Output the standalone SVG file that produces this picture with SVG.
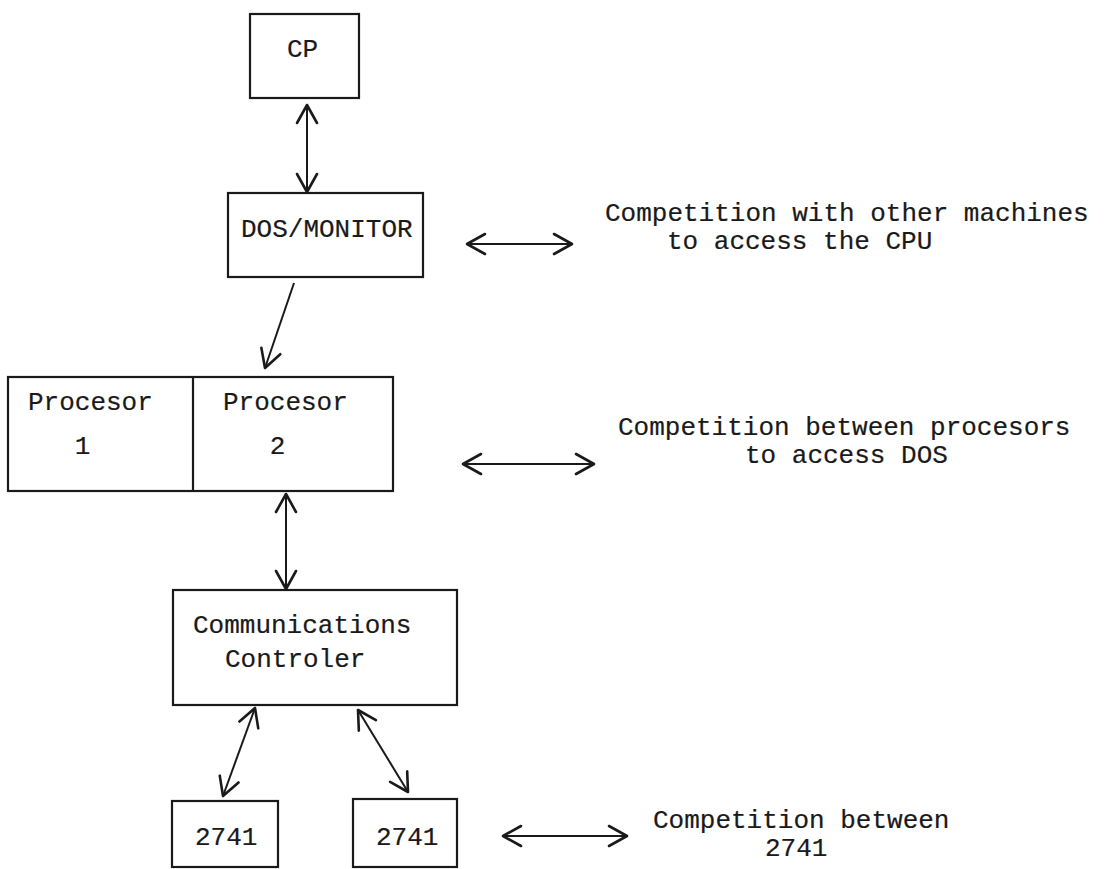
<svg xmlns="http://www.w3.org/2000/svg" width="1110" height="869" viewBox="0 0 1110 869">
<style>
.box{fill:none;stroke:#1a1a1a;stroke-width:2.2}
.t{font-family:"Liberation Mono","DejaVu Sans Mono",monospace;font-size:26px;fill:#1a1a1a;stroke:#1a1a1a;stroke-width:0.2}
.c{fill:none;stroke:#1a1a1a;stroke-width:2}
</style>
<defs>
<marker id="ah" viewBox="0 0 24 24" refX="21" refY="12" markerWidth="24" markerHeight="24" markerUnits="userSpaceOnUse" orient="auto-start-reverse">
<path d="M3,2 L21,12 L3,22" fill="none" stroke="#1a1a1a" stroke-width="2.6" stroke-linecap="round" stroke-linejoin="round"/>
</marker>
</defs>
<rect width="1110" height="869" fill="#ffffff"/>

<g id="cp">
<rect class="box" x="250" y="14" width="109" height="84"/>
<text class="t" x="287" y="57">CP</text>
</g>

<g id="dos">
<rect class="box" x="228" y="193" width="195" height="84"/>
<text class="t" x="241" y="237">DOS/MONITOR</text>
</g>

<g id="processors">
<rect class="box" x="8" y="377" width="385" height="114"/>
<line class="box" x1="193" y1="377" x2="193" y2="491"/>
<text class="t" x="28" y="410">Procesor</text>
<text class="t" x="28" y="454" xml:space="preserve">   1</text>
<text class="t" x="223" y="410">Procesor</text>
<text class="t" x="223" y="454" xml:space="preserve">   2</text>
</g>

<g id="comm">
<rect class="box" x="173" y="590" width="284" height="115"/>
<text class="t" x="193" y="633">Communications</text>
<text class="t" x="225" y="667">Controler</text>
</g>

<g id="t2741a">
<rect class="box" x="172" y="801" width="106" height="66"/>
<text class="t" x="195" y="845">2741</text>
</g>

<g id="t2741b">
<rect class="box" x="353" y="799" width="104" height="68"/>
<text class="t" x="376" y="845">2741</text>
</g>

<g id="labels">
<text class="t" x="605" y="221">Competition with other machines</text>
<text class="t" x="667" y="249">to access the CPU</text>
<text class="t" x="618" y="435">Competition between procesors</text>
<text class="t" x="745" y="463">to access DOS</text>
<text class="t" x="653" y="828">Competition between</text>
<text class="t" x="765" y="856">2741</text>
</g>

<g id="connectors">
<line class="c" x1="307" y1="105" x2="307" y2="192" marker-start="url(#ah)" marker-end="url(#ah)"/>
<line class="c" x1="294" y1="283" x2="265" y2="368" marker-end="url(#ah)"/>
<line class="c" x1="286" y1="494" x2="286" y2="589" marker-start="url(#ah)" marker-end="url(#ah)"/>
<line class="c" x1="255" y1="708" x2="223" y2="796" marker-start="url(#ah)" marker-end="url(#ah)"/>
<line class="c" x1="358" y1="710" x2="408" y2="792" marker-start="url(#ah)" marker-end="url(#ah)"/>
<line class="c" x1="467" y1="244" x2="572" y2="244" marker-start="url(#ah)" marker-end="url(#ah)"/>
<line class="c" x1="463" y1="464" x2="594" y2="464" marker-start="url(#ah)" marker-end="url(#ah)"/>
<line class="c" x1="503" y1="836" x2="627" y2="836" marker-start="url(#ah)" marker-end="url(#ah)"/>
</g>
</svg>
